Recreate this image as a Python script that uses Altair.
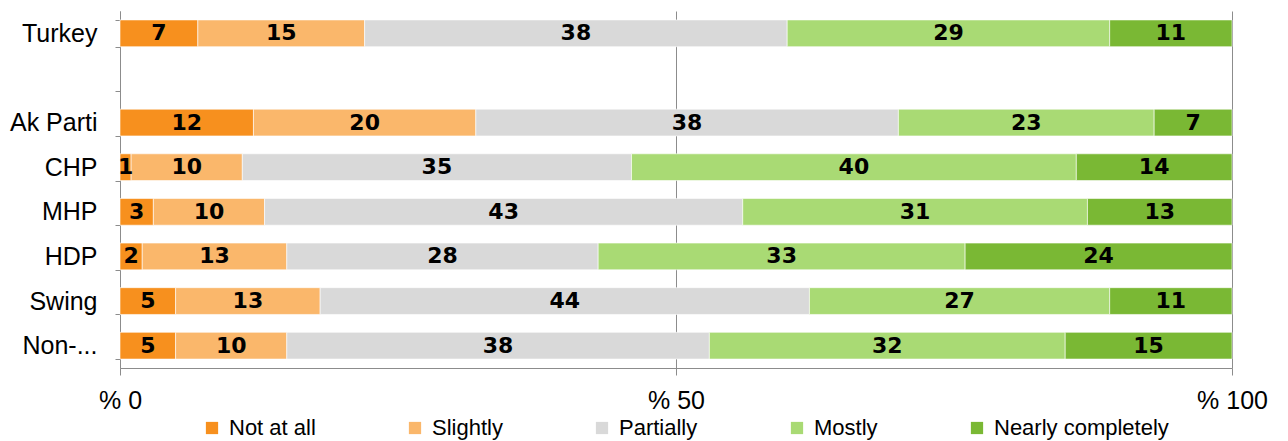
import altair as alt
import pandas as pd

groups = ["Turkey", "Ak Parti", "CHP", "MHP", "HDP", "Swing", "Non-..."]
row_order = ["Turkey", " ", "Ak Parti", "CHP", "MHP", "HDP", "Swing", "Non-..."]
levels = ["Not at all", "Slightly", "Partially", "Mostly", "Nearly completely"]
colors = ["#F7901E", "#FAB76B", "#D9D9D9", "#A9DA74", "#7AB834"]

not_at_all = [7, 12, 1, 3, 2, 5, 5]
slightly = [15, 20, 10, 10, 13, 13, 10]
partially = [38, 38, 35, 43, 28, 44, 38]
mostly = [29, 23, 40, 31, 33, 27, 32]
nearly = [11, 7, 14, 13, 24, 11, 15]

series = [not_at_all, slightly, partially, mostly, nearly]
rows = []
for li, (lvl, vals) in enumerate(zip(levels, series)):
    for g, v in zip(groups, vals):
        rows.append({"group": g, "level": lvl, "order": li, "value": v})
df = pd.DataFrame(rows)

FONT = "Liberation Sans"
GRAY = "#8C8C8C"

base = alt.Chart(df).transform_stack(
    stack="value", groupby=["group"], as_=["x0", "x1"],
    sort=[alt.SortField("order", order="ascending")]
).transform_calculate(mid="(datum.x0 + datum.x1) / 2")

y_scale = alt.Scale(domain=row_order, paddingInner=0.4, paddingOuter=0.2)
y_enc = alt.Y("group:N", scale=y_scale,
              axis=alt.Axis(title=None, tickBand="extent", tickSize=5, tickColor=GRAY,
                            domainColor=GRAY, labelFontSize=25, labelFont=FONT,
                            labelColor="black", labelPadding=18, grid=False))

x_scale = alt.Scale(domain=[0, 100], nice=False)

bars = base.mark_bar(stroke="white", strokeWidth=0.6).encode(
    x=alt.X("x0:Q", scale=x_scale,
            axis=alt.Axis(title=None, values=[0, 50, 100], labelExpr="'% ' + datum.value",
                          grid=True, gridColor=GRAY, domainColor=GRAY, tickColor=GRAY,
                          tickSize=7, labelFontSize=25, labelFont=FONT, labelColor="black",
                          labelPadding=13, labelFlush=False)),
    x2="x1:Q",
    y=y_enc,
    color=alt.Color("level:N", scale=alt.Scale(domain=levels, range=colors),
                    legend=alt.Legend(title=None, orient="none", legendX=81, legendY=406,
                                      direction="horizontal", columns=5, columnPadding=88,
                                      symbolType="square", symbolSize=150, symbolStrokeWidth=0,
                                      labelFontSize=22, labelFont=FONT, labelColor="black",
                                      labelOffset=6, labelLimit=400)),
    order=alt.Order("order:Q"),
)

labels = base.mark_text(font="DejaVu Sans", fontWeight="bold", fontSize=22,
                        color="black", align="center", baseline="middle").encode(
    x=alt.X("mid:Q", scale=x_scale),
    y=alt.Y("group:N", scale=y_scale),
    text=alt.Text("value:Q"),
)

chart = alt.layer(bars, labels).properties(
    width=1112, height=357,
    autosize=alt.AutoSizeParams(type="none"),
    padding={"left": 120, "top": 11, "right": 56, "bottom": 73},
).configure_view(stroke=None)

chart.save("out.html", embed_options={"renderer": "svg", "actions": False})
